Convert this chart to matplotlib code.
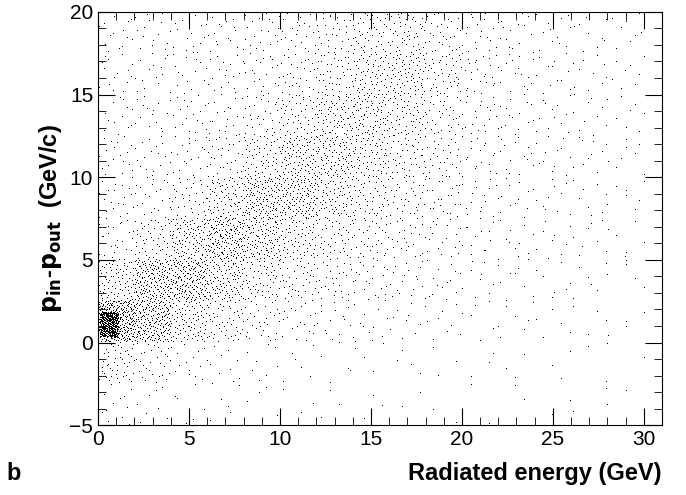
import numpy as np
import matplotlib.pyplot as plt
from matplotlib.ticker import MultipleLocator

plt.rcParams['font.family'] = ['Liberation Sans', 'DejaVu Sans']

# density of dots: counts per cell
x_edges = np.arange(0, 32, 2)            # 15 columns, 0..30 GeV
y_edges = np.arange(-5, 22.5, 2.5)       # 10 rows, -5..20 GeV/c
counts = np.array([  # rows from bottom (-5) to top (20)
    [12, 8, 6, 5, 4, 3, 3, 3, 2, 2, 2, 2, 2, 2, 2],
    [50, 30, 15, 10, 8, 6, 5, 4, 4, 3, 3, 3, 3, 2, 2],
    [300, 200, 90, 50, 30, 20, 15, 12, 10, 8, 7, 6, 5, 4, 4],
    [80, 180, 180, 110, 60, 40, 30, 22, 18, 14, 10, 8, 7, 6, 5],
    [25, 50, 110, 170, 120, 70, 45, 35, 25, 18, 14, 10, 9, 8, 6],
    [20, 22, 35, 80, 140, 130, 80, 50, 35, 25, 16, 12, 10, 8, 7],
    [18, 18, 20, 30, 60, 100, 100, 70, 45, 30, 18, 14, 12, 10, 8],
    [15, 15, 18, 20, 30, 50, 80, 85, 60, 35, 20, 15, 12, 10, 8],
    [15, 15, 15, 18, 22, 30, 45, 70, 75, 45, 25, 15, 12, 10, 8],
    [15, 15, 15, 18, 20, 25, 35, 45, 50, 30, 20, 15, 12, 10, 8],
])
# extra dense spot at the origin cluster
spot_box = (0.1, 1.1, 0.3, 1.8)
spot_count = 350


def halton(n, base, start):
    out = np.zeros(n)
    for i in range(n):
        f, r, k = 1.0, 0.0, i + start
        while k > 0:
            f /= base
            r += f * (k % base)
            k //= base
        out[i] = r
    return out


xs, ys = [], []
cell = 0
for j in range(len(y_edges) - 1):
    for i in range(len(x_edges) - 1):
        n = counts[j, i]
        cell += 1
        xs.append(x_edges[i] + (x_edges[i + 1] - x_edges[i]) * halton(n, 2, 17 * cell + 1))
        ys.append(y_edges[j] + (y_edges[j + 1] - y_edges[j]) * halton(n, 3, 17 * cell + 1))
xs.append(spot_box[0] + (spot_box[1] - spot_box[0]) * halton(spot_count, 5, 1))
ys.append(spot_box[2] + (spot_box[3] - spot_box[2]) * halton(spot_count, 7, 1))
xs = np.concatenate(xs)
ys = np.concatenate(ys)

fig = plt.figure(figsize=(6.86, 4.95), dpi=100)
ax = fig.add_axes([0.143, 0.141, 0.822, 0.835])
ax.plot(xs, ys, ',', color='black')
ax.set_xlim(0, 31)
ax.set_ylim(-5, 20)
ax.xaxis.set_major_locator(MultipleLocator(5))
ax.xaxis.set_minor_locator(MultipleLocator(1))
ax.yaxis.set_major_locator(MultipleLocator(5))
ax.yaxis.set_minor_locator(MultipleLocator(1))
ax.tick_params(which='both', direction='in', top=True, right=True, labelsize=15)
ax.tick_params(which='major', length=12)
ax.tick_params(which='minor', length=6)
ax.set_ylabel(r'$\mathbf{p_{in}}$-$\mathbf{p_{out}}$  (GeV/c)', fontsize=17, fontweight='bold')
fig.text(0.965, 0.02, 'Radiated energy (GeV)', ha='right', va='bottom', fontsize=17, fontweight='bold')
fig.text(0.01, 0.02, 'b', ha='left', va='bottom', fontsize=17, fontweight='bold')
fig.savefig('out.png')
